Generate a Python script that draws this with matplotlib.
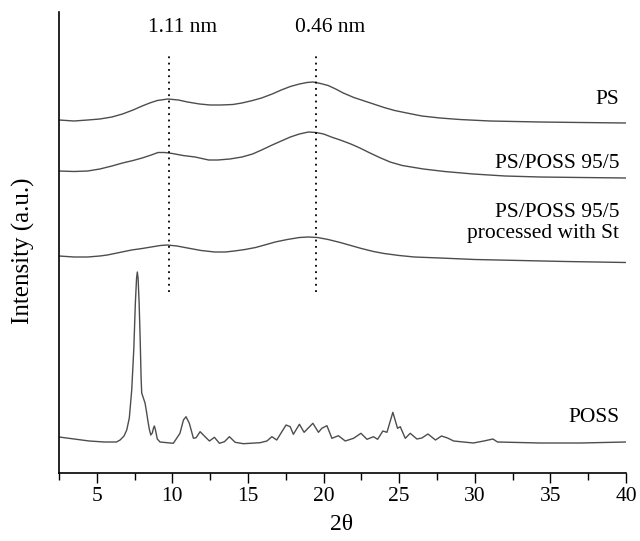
import matplotlib

matplotlib.use("Agg")
import matplotlib.pyplot as plt
from matplotlib.ticker import MultipleLocator

# intensities in arbitrary units (traces already stacked vertically)
ps_x = [2.5, 3.5, 4.4, 5.2, 6.0, 6.7, 7.4, 8.0, 8.5, 9.0, 9.7, 10.4, 11.0, 11.8, 12.5,
        13.2, 14.0, 14.6, 15.3, 15.9, 16.6, 17.2, 17.8, 18.4, 18.9, 19.3, 19.8, 20.3,
        20.8, 21.3, 22.0, 22.7, 23.3, 24.0, 24.7, 25.5, 26.5, 27.7, 29.0, 31.0, 34.3,
        37.0, 40.0]
ps_y = [353, 352, 353, 354, 356, 359, 363, 367, 370, 372.5, 374, 373, 371, 369, 368,
        368, 368.5, 370, 372.5, 375, 379, 383, 386.5, 389, 390.5, 391, 389.5, 387.5,
        384, 380, 375.5, 372, 369, 365.5, 362.5, 360, 357, 355, 353.5, 352, 351,
        350.5, 350]

blend_x = [2.5, 3.5, 4.4, 5.2, 6.0, 6.7, 7.4, 8.0, 8.6, 9.05, 9.5, 10.0, 10.7, 11.5,
           12.4, 13.0, 13.8, 14.6, 15.3, 15.9, 16.6, 17.2, 17.8, 18.4, 19.0, 19.5, 20.0,
           20.6, 21.1, 21.8, 22.4, 23.0, 23.7, 24.4, 25.2, 26.0, 26.6, 28.0, 29.9, 32.0,
           34.3, 37.0, 40.0]
blend_y = [302, 301.5, 302, 304, 307, 310, 312.5, 315, 318, 320.5, 320.5, 319.5, 317.5,
           316, 313, 313, 314, 316, 319, 323, 328, 332, 336, 339, 341, 340.5, 339,
           335.5, 333, 329, 325, 320.5, 315.5, 311, 307.5, 305.5, 304, 301.5, 299, 297,
           296, 295.5, 295]

st_x = [2.5, 3.5, 4.4, 5.2, 5.7, 6.5, 7.3, 8.0, 8.6, 9.2, 9.65, 10.3, 11.0, 11.9, 12.8,
        13.5, 14.1, 14.8, 15.5, 16.1, 16.8, 17.6, 18.4, 19.0, 19.6, 20.3, 21.1, 21.8,
        22.5, 23.3, 24.0, 25.0, 26.0, 27.7, 30.0, 33.0, 36.0, 40.0]
st_y = [217, 216, 216, 217, 218, 220.5, 223, 224.5, 226, 227.5, 228, 227, 225, 222.5,
        221, 221, 222, 223.5, 225.5, 228, 231, 233.5, 235.5, 236, 235.5, 233.5, 230.5,
        227.5, 224.5, 221.5, 219.5, 217.5, 216, 215, 213.5, 212.5, 211.5, 210.5]

poss_x = [2.5, 3.5, 4.5, 5.5, 6.3, 6.54, 6.8, 6.98, 7.15, 7.31, 7.45, 7.55, 7.63, 7.68,
          7.73, 7.8, 7.87, 7.93, 7.97, 8.08, 8.19, 8.28, 8.37, 8.47, 8.57, 8.67, 8.75,
          8.81, 8.88, 9.0, 9.18, 10.06, 10.5, 10.73, 10.9, 11.12, 11.39, 11.57, 11.83,
          12.16, 12.45, 12.78, 13.11, 13.44, 13.77, 14.15, 14.7, 15.8, 16.25, 16.58,
          16.9, 17.24, 17.52, 17.79, 18.0, 18.4, 18.71, 19.29, 19.66, 19.88, 20.22,
          20.55, 20.98, 21.43, 21.98, 22.47, 22.87, 23.3, 23.57, 23.92, 24.19, 24.58,
          24.89, 25.07, 25.4, 25.73, 26.17, 26.5, 26.9, 27.4, 27.8, 28.2, 28.6, 29.9,
          30.6, 31.2, 31.5, 34.3, 37.0, 40.0]
poss_y = [36, 34, 32, 31, 31, 33, 37, 43, 55, 83, 125, 170, 195, 201,
          195, 170, 133, 95, 80, 75, 70, 62, 53, 44, 38, 40, 45,
          47, 43, 34, 31, 29.7, 39.7, 53, 56.3, 49.7, 34.7, 35.3, 41.3,
          36.3, 32, 35.7, 29.7, 31.3, 36.3, 30.7, 29.3, 30.3, 32, 36.3,
          33, 41.3, 48, 46.3, 38.7, 48.7, 40.7, 49.7, 40.7, 44.7, 47.3,
          34.7, 37.3, 32, 34.7, 39.7, 33.7, 36.3, 33.7, 42, 40.7, 60.7,
          44.7, 46.3, 34.7, 39.7, 34, 35, 39, 33, 37, 35, 32, 30,
          32, 34, 31, 30, 30, 31]

marker_pos = [9.75, 19.5]
marker_text = ["1.11 nm", "0.46 nm"]
marker_text_x = [10.7, 20.4]

plt.rcParams["font.family"] = ["Liberation Serif", "DejaVu Serif"]

fig = plt.figure(figsize=(6.4, 5.41), dpi=100)
ax = fig.add_axes([59 / 640, 68 / 541, 567 / 640, 461 / 541])

col = "#4d4d4d"
for xs, ys in [(ps_x, ps_y), (blend_x, blend_y), (st_x, st_y), (poss_x, poss_y)]:
    ax.plot(xs, ys, color=col, lw=1.0)

for xp, lab, xt in zip(marker_pos, marker_text, marker_text_x):
    ax.plot([xp, xp], [181, 421], color="black", ls=(0, (1, 2.5)), lw=1.3)
    ax.text(xt, 445, lab, ha="center", va="center", fontsize=15.5)

rx = 39.55
fs = 15.5
ax.text(rx, 373, "PS", ha="right", va="center", fontsize=fs)
ax.text(rx, 310, "PS/POSS 95/5", ha="right", va="center", fontsize=fs)
ax.text(rx, 250, "PS/POSS 95/5\nprocessed with St", ha="right", va="center",
        fontsize=fs, linespacing=1.1)
ax.text(rx, 55, "POSS", ha="right", va="center", fontsize=fs)

ax.set_xlim(2.5, 40)
ax.set_ylim(0, 461)
ax.xaxis.set_major_locator(MultipleLocator(5))
ax.xaxis.set_minor_locator(MultipleLocator(2.5))
ax.tick_params(axis="x", which="major", direction="out", length=7, width=1, labelsize=15.5, pad=3)
ax.tick_params(axis="x", which="minor", direction="out", length=5, width=1)
ax.set_yticks([])
for s in ["top", "right"]:
    ax.spines[s].set_visible(False)
for s in ["left", "bottom"]:
    ax.spines[s].set_linewidth(1.2)

fig.text(23 / 640, 1 - 251 / 541, "Intensity (a.u.)", rotation=90, ha="center", va="center",
         fontsize=18)
fig.text(342 / 640, 1 - 525 / 541, "2θ", ha="center", va="center", fontsize=17)

fig.savefig("out.png", dpi=100)
